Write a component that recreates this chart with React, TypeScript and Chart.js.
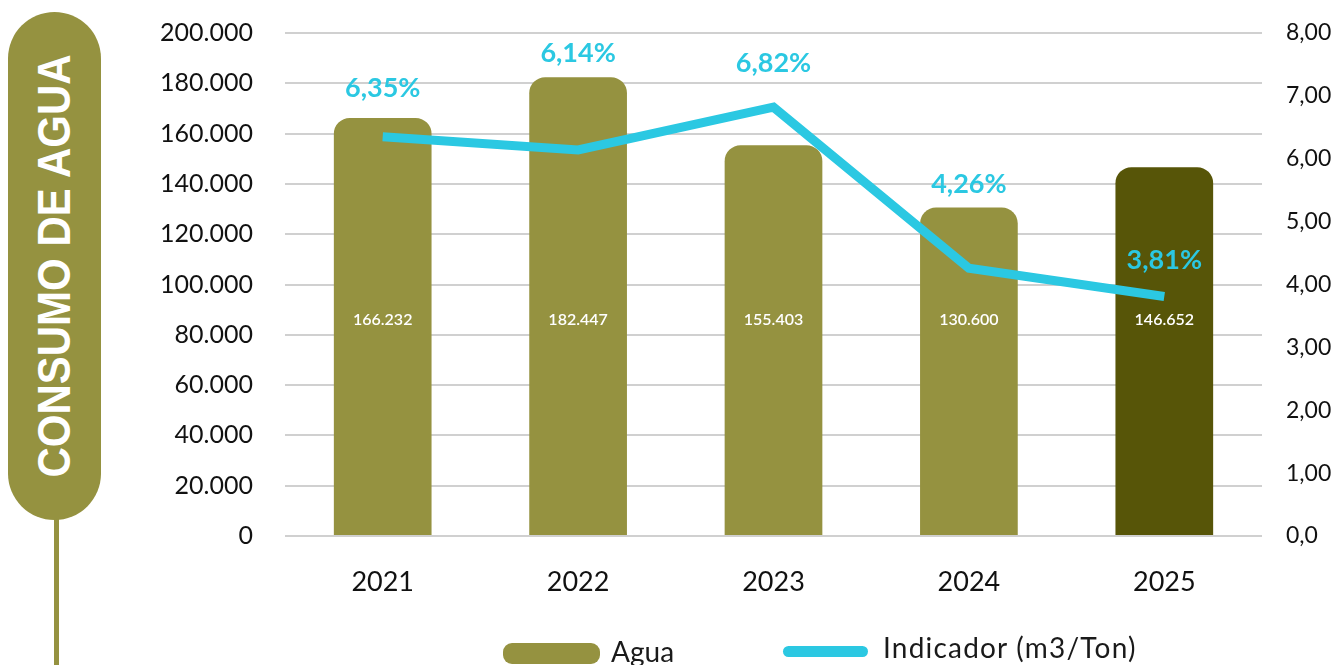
import React, { useEffect, useRef } from "react";
import { Chart, registerables } from "chart.js";

Chart.register(...registerables);

const years = ["2021", "2022", "2023", "2024", "2025"];
const aguaValues = [166232, 182447, 155403, 130600, 146652];
const aguaLabels = ["166.232", "182.447", "155.403", "130.600", "146.652"];
const indicadorValues = [6.35, 6.14, 6.82, 4.26, 3.81];
const indicadorLabels = ["6,35%", "6,14%", "6,82%", "4,26%", "3,81%"];
const leftAxisMax = 200000;
const leftAxisStep = 20000;
const rightAxisMax = 8;
const rightAxisStep = 1;

// styles
const OLIVE = "#959240";
const DARK_OLIVE = "#575508";
const CYAN = "#2bc8e2";
const FONT = "Lato, 'Noto Sans', sans-serif";
const barColors = [OLIVE, OLIVE, OLIVE, OLIVE, DARK_OLIVE];
const lineLabelOffsets = [48, 97, 44, 84, 36];
const BAR_LABEL_LEVEL = 86000;

const formatThousands = (v: number) =>
  String(Math.round(v)).replace(/\B(?=(\d{3})+(?!\d))/g, ".");
const formatRight = (v: number) =>
  v === 0 ? "0,0" : v.toFixed(2).replace(".", ",");

const labelPlugin = {
  id: "valueLabels",
  afterDatasetsDraw(chart: any) {
    const ctx = chart.ctx;
    const barMeta = chart.getDatasetMeta(0);
    const lineMeta = chart.getDatasetMeta(1);
    const yL = chart.scales.y;
    ctx.save();
    ctx.textAlign = "center";
    ctx.textBaseline = "middle";
    ctx.fillStyle = "#ffffff";
    ctx.font = `600 16px ${FONT}`;
    barMeta.data.forEach((el: any, i: number) => {
      ctx.fillText(aguaLabels[i], el.x, yL.getPixelForValue(BAR_LABEL_LEVEL));
    });
    ctx.fillStyle = CYAN;
    ctx.font = `bold 27px ${FONT}`;
    lineMeta.data.forEach((pt: any, i: number) => {
      ctx.fillText(indicadorLabels[i], pt.x, pt.y - lineLabelOffsets[i]);
    });
    ctx.restore();
  },
};

export default function App() {
  const canvasRef = useRef<HTMLCanvasElement | null>(null);

  useEffect(() => {
    if (!canvasRef.current) return;
    const chart = new Chart(canvasRef.current, {
      type: "bar",
      data: {
        labels: years,
        datasets: [
          {
            type: "bar",
            label: "Agua",
            data: aguaValues,
            backgroundColor: barColors,
            borderRadius: { topLeft: 16, topRight: 16, bottomLeft: 0, bottomRight: 0 },
            borderSkipped: false,
            barPercentage: 0.5,
            categoryPercentage: 1.0,
            yAxisID: "y",
            order: 1,
          } as any,
          {
            type: "line",
            label: "Indicador (m3/Ton)",
            data: indicadorValues,
            borderColor: CYAN,
            backgroundColor: CYAN,
            borderWidth: 9,
            pointRadius: 0,
            tension: 0,
            yAxisID: "y1",
            order: 0,
          } as any,
        ],
      },
      options: {
        responsive: false,
        maintainAspectRatio: false,
        animation: false,
        layout: { padding: { top: 33, left: 0, right: 0, bottom: 0 } },
        plugins: {
          legend: { display: false },
          tooltip: { enabled: false },
        },
        scales: {
          x: {
            grid: { display: false },
            border: { display: false },
            ticks: {
              color: "#111111",
              font: { family: FONT, size: 27 },
              padding: 22,
            },
            afterFit: (scale: any) => {
              scale.height = 129;
            },
          },
          y: {
            position: "left",
            min: 0,
            max: leftAxisMax,
            border: { display: false },
            grid: { color: "#d0d0d0", lineWidth: 2, drawTicks: false },
            ticks: {
              stepSize: leftAxisStep,
              color: "#111111",
              font: { family: FONT, size: 25 },
              padding: 32,
              callback: (v: any) => formatThousands(Number(v)),
            },
            afterFit: (scale: any) => {
              scale.width = 285;
              scale.paddingTop = 0;
              scale.paddingBottom = 0;
            },
          },
          y1: {
            position: "right",
            min: 0,
            max: rightAxisMax,
            border: { display: false },
            grid: { display: false, drawTicks: false },
            ticks: {
              stepSize: rightAxisStep,
              color: "#111111",
              font: { family: FONT, size: 23 },
              padding: 24,
              callback: (v: any) => formatRight(Number(v)),
            },
            afterFit: (scale: any) => {
              scale.width = 78;
              scale.paddingTop = 0;
              scale.paddingBottom = 0;
            },
          },
        },
      } as any,
      plugins: [labelPlugin],
    });
    return () => chart.destroy();
  }, []);

  return (
    <div
      style={{
        position: "fixed",
        left: 0,
        top: 0,
        width: 1340,
        height: 665,
        background: "#ffffff",
        overflow: "hidden",
      }}
    >
      <canvas
        ref={canvasRef}
        width={1340}
        height={665}
        style={{ position: "absolute", left: 0, top: 0, width: 1340, height: 665 }}
      />
      <div
        style={{
          position: "absolute",
          left: 54,
          top: 515,
          width: 5,
          height: 150,
          background: OLIVE,
        }}
      />
      <div
        style={{
          position: "absolute",
          left: 8,
          top: 12,
          width: 93,
          height: 508,
          borderRadius: 46.5,
          background: OLIVE,
        }}
      >
        <div
          style={{
            position: "absolute",
            left: "50%",
            top: "50%",
            transform: "translate(-50%, -50%) rotate(-90deg) scaleY(1.08)",
            color: "#ffffff",
            fontFamily: "'Liberation Sans', Arial, sans-serif",
            fontWeight: 700,
            fontSize: 42,
            whiteSpace: "nowrap",
            lineHeight: "42px",
          }}
        >
          CONSUMO DE AGUA
        </div>
      </div>
      <div
        style={{
          position: "absolute",
          left: 503,
          top: 643,
          width: 97,
          height: 21,
          borderRadius: 9,
          background: OLIVE,
        }}
      />
      <div
        style={{
          position: "absolute",
          left: 611,
          top: 633,
          height: 36,
          lineHeight: "36px",
          fontFamily: FONT,
          fontSize: 28,
          color: "#1a1a1a",
          whiteSpace: "nowrap",
        }}
      >
        Agua
      </div>
      <div
        style={{
          position: "absolute",
          left: 783,
          top: 646,
          width: 85,
          height: 11,
          borderRadius: 6,
          background: CYAN,
        }}
      />
      <div
        style={{
          position: "absolute",
          left: 883,
          top: 629,
          height: 36,
          lineHeight: "36px",
          fontFamily: FONT,
          fontSize: 28,
          letterSpacing: 1.2,
          color: "#1a1a1a",
          whiteSpace: "nowrap",
        }}
      >
        Indicador (m3/Ton)
      </div>
    </div>
  );
}
